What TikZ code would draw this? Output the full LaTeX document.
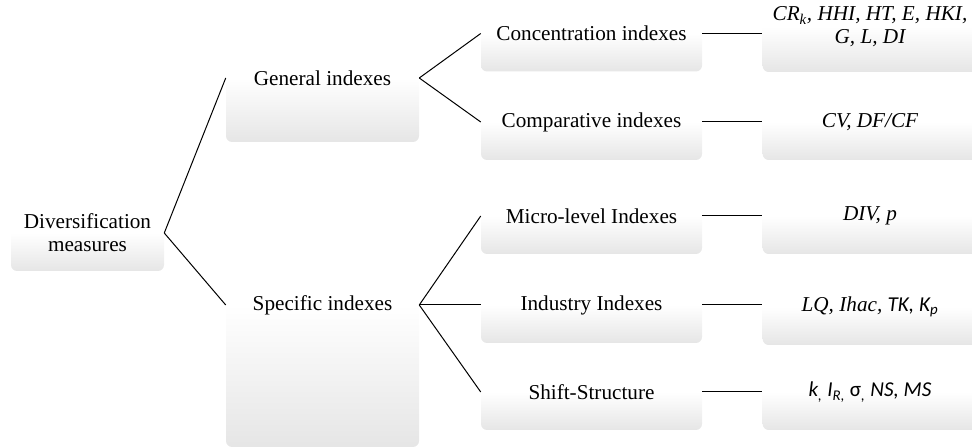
\documentclass[tikz,border=0pt]{standalone}
\usepackage{fontspec}
\setmainfont{Liberation Serif}
\newfontfamily\calfont{Carlito}
\newcommand{\boxfont}{\fontsize{15.9}{17.3}\selectfont}

\begin{document}
\begin{tikzpicture}[x=0.75pt,y=-0.75pt]
		\tikzset{box/.style = {rounded corners=4.5pt, top color=white,
			bottom color=black!10, middle color=white,
			inner sep=0pt, align=center, font=\boxfont}}
		\tikzset{valbox/.style = {box, font=\boxfont\itshape,
			minimum width=161pt, minimum height=57pt}}
		\tikzset{midbox/.style = {box, minimum width=165.75pt, minimum height=57pt}}
		\tikzset{link/.style = {draw=black, line width=0.75pt}}
		\useasboundingbox (0,0) rectangle (972,448);
		% boxes
		\node[box, minimum width=114.75pt, minimum height=57pt] (root) at (87.5,233) {Diversification\\measures};
		\node[box, minimum width=144.75pt, minimum height=96pt] (gen) at (322.5,78) {General indexes};
		\node[box, minimum width=144.75pt, minimum height=213pt] (spec) at (322.5,305) {Specific indexes};

		\node[midbox] (conc) at (591.5,33.5) {Concentration indexes};
		\node[midbox] (comp) at (591.5,122) {Comparative indexes};
		\node[midbox] (micro) at (591.5,216) {Micro-level Indexes};
		\node[midbox] (ind) at (591.5,305) {Industry Indexes};
		\node[midbox] (shift) at (591.5,392) {Shift-Structure};

		\node[valbox, minimum height=67.5pt] (concv) at (870,27) {CR\textsubscript{k}, HHI, HT, E, HKI,\\G, L, DI};
		\node[valbox] (compv) at (870,122) {CV, DF/CF};
		\node[valbox] (microv) at (870,216) {DIV, p};
		\node[valbox] (indv) at (870,307) {LQ, Ihac, {\calfont TK, K\textsubscript{p}}};
		\node[valbox] (shiftv) at (870,392) {\calfont k\textsubscript{,} I\textsubscript{R,} {\upshape σ}\textsubscript{,} NS, MS};

		%edges
		\draw[link] (root.east) -- (gen.west);
		\draw[link] (root.east) -- (spec.west);

		\draw[link] (gen.east) -- (conc.west);
		\draw[link] (gen.east) -- (comp.west);
		\draw[link] (spec.east) -- (micro.west);
		\draw[link] (spec.east) -- (ind.west);
		\draw[link] (spec.east) -- (shift.west);

		\draw[link] (conc.east) -- (conc.east -| concv.west);
		\draw[link] (comp.east) -- (compv.west);
		\draw[link] (micro.east) -- (microv.west);
		\draw[link] (ind.east) -- (ind.east -| indv.west);
		\draw[link] (shift.east) -- (shiftv.west);
\end{tikzpicture}
\end{document}
